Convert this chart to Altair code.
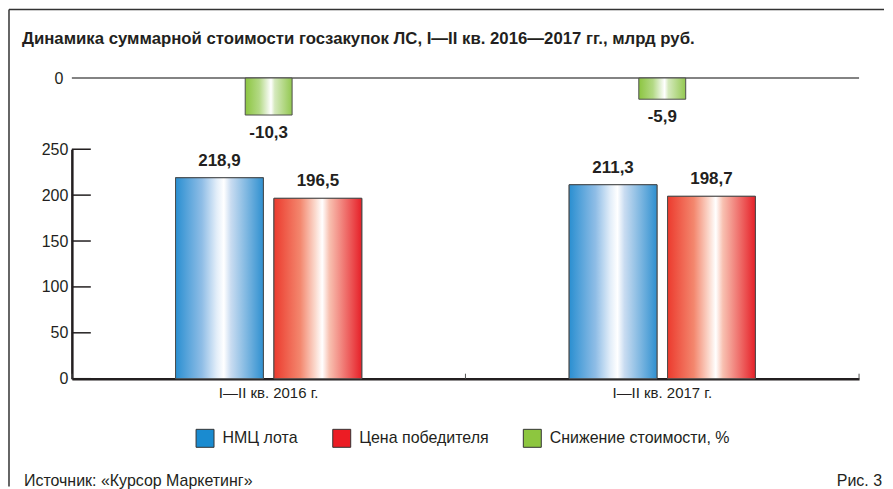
import altair as alt
import pandas as pd

title_text = "Динамика суммарной стоимости госзакупок ЛС, I—II кв. 2016—2017 гг., млрд руб."
source_text = "Источник: «Курсор Маркетинг»"
fig_text = "Рис. 3"

categories = ["I—II кв. 2016 г.", "I—II кв. 2017 г."]
series = ["НМЦ лота", "Цена победителя", "Снижение стоимости, %"]
nmc_values = [218.9, 211.3]
winner_values = [196.5, 198.7]
decrease_values = [-10.3, -5.9]
y_ticks = [0, 50, 100, 150, 200, 250]
solid_colors = ["#1a8bd0", "#ec1c24", "#8dc63f"]

FONT = "Liberation Sans"
INK = "#231f20"


def fmt(v):
    return f"{v:.1f}".replace(".", ",")


def grad(stops):
    return alt.LinearGradient(
        gradient="linear", x1=0, x2=1, y1=0, y2=0,
        stops=[alt.GradientStop(color=c, offset=o) for o, c in stops],
    )


blue_grad = grad([(0, "#2a8fd1"), (0.3, "#8fbde6"), (0.47, "#e3eef9"), (0.55, "#ffffff"),
                  (0.63, "#c9dcf1"), (1, "#2f90d0")])
red_grad = grad([(0, "#ec3b2e"), (0.3, "#f3876e"), (0.47, "#fbd9cd"), (0.55, "#ffffff"),
                 (0.63, "#f8c1b1"), (1, "#e62028")])
green_grad = grad([(0, "#8cc540"), (0.3, "#b3d985"), (0.47, "#e6f2d9"), (0.55, "#ffffff"),
                   (0.63, "#d5e9bd"), (1, "#93c850")])

bars_df = pd.DataFrame({
    "category": categories * 2,
    "series": [series[0]] * 2 + [series[1]] * 2,
    "value": nmc_values + winner_values,
})
bars_df["label"] = bars_df["value"].map(fmt)

dec_df = pd.DataFrame({"category": categories, "value": decrease_values})
dec_df["label"] = dec_df["value"].map(fmt)

one = pd.DataFrame({"k": [0]})

W = 789
x_scale = alt.Scale(domain=categories, paddingInner=0, paddingOuter=0)

# ---------------- top panel ----------------
top_y = alt.Scale(domain=[-14.27, 2.4], nice=False)
top_axis = alt.Axis(values=[0], domain=False, ticks=False, grid=False, labelFont=FONT,
                    labelFontSize=16, labelColor=INK, labelPadding=9, title=None)
tx = alt.X("category:N", scale=x_scale, sort=categories, axis=None)

frame_top = alt.Chart(one).mark_rule(color="#333333", strokeWidth=1.5).encode(
    x=alt.value(-63), x2=alt.value(814), y=alt.value(-60))
frame_left = alt.Chart(one).mark_rule(color="#333333", strokeWidth=1.5).encode(
    x=alt.value(-63), y=alt.value(-60), y2=alt.value(418))
title = alt.Chart(pd.DataFrame({"t": [title_text]})).mark_text(
    align="left", baseline="alphabetic", font=FONT, fontSize=16.8, fontWeight="bold", color=INK
).encode(text="t:N", x=alt.value(-50), y=alt.value(-25))
zero = alt.Chart(pd.DataFrame({"z": [0]})).mark_rule(color="#5a5a5a", strokeWidth=1.5).encode(
    y=alt.Y("z:Q", scale=top_y, axis=top_axis))
green_bars = alt.Chart(dec_df).mark_bar(width=47, fill=green_grad, stroke="#4d4d4d", strokeWidth=1).encode(
    x=tx, y=alt.Y("value:Q", scale=top_y, axis=top_axis))
green_labels = alt.Chart(dec_df).mark_text(
    font=FONT, fontSize=17, fontWeight="bold", color=INK, baseline="top", dy=10
).encode(x=tx, y=alt.Y("value:Q", scale=top_y, axis=top_axis), text="label:N")

top = alt.layer(frame_top, frame_left, title, zero, green_bars, green_labels).properties(width=W, height=60)

# ---------------- bottom panel ----------------
y_scale = alt.Scale(domain=[0, 250], nice=False)
y_axis = alt.Axis(values=y_ticks, title=None, ticks=False, grid=False, domainColor=INK, domainWidth=2.5,
                  labelFont=FONT, labelFontSize=16, labelColor=INK, labelPadding=4)
x_axis = alt.Axis(title=None, labelAngle=0, ticks=False, grid=False, domainColor=INK, domainWidth=2.5,
                  labelFont=FONT, labelFontSize=15, labelColor=INK, labelPadding=7)
xoff_scale = alt.Scale(domain=series[:2], paddingInner=0, paddingOuter=1)

bx = alt.X("category:N", scale=x_scale, sort=categories, axis=x_axis)
bxo = alt.XOffset("series:N", scale=xoff_scale)
by = alt.Y("value:Q", scale=y_scale, axis=y_axis)

base = alt.Chart(bars_df)
solid = base.mark_bar(width=88, stroke="#333333", strokeWidth=1).encode(
    x=bx, xOffset=bxo, y=by,
    color=alt.Color("series:N", scale=alt.Scale(domain=series, range=solid_colors),
                    legend=alt.Legend(title=None, orient="none", legendX=124, legendY=360,
                                      direction="horizontal", symbolType="square", symbolSize=324,
                                      symbolStrokeColor="#333333", symbolStrokeWidth=1,
                                      labelFont=FONT, labelFontSize=16, labelColor=INK,
                                      labelLimit=400, labelOffset=8, columnPadding=32, padding=0)))
blue = base.transform_filter(alt.datum.series == series[0]).mark_bar(
    width=88, fill=blue_grad, stroke="#4d4d4d", strokeWidth=1).encode(x=bx, xOffset=bxo, y=by)
red = base.transform_filter(alt.datum.series == series[1]).mark_bar(
    width=88, fill=red_grad, stroke="#4d4d4d", strokeWidth=1).encode(x=bx, xOffset=bxo, y=by)
labels = base.mark_text(font=FONT, fontSize=17, fontWeight="bold", color=INK,
                        baseline="alphabetic", dy=-12).encode(x=bx, xOffset=bxo, y=by, text="label:N")
ytick_rules = alt.Chart(pd.DataFrame({"t": y_ticks})).mark_rule(color=INK, strokeWidth=1.5).encode(
    y=alt.Y("t:Q", scale=y_scale, axis=y_axis), x=alt.value(0), x2=alt.value(19))
xtick_rules = alt.Chart(pd.DataFrame({"category": categories})).mark_rule(color="#555555", strokeWidth=1).encode(
    x=alt.X("category:N", scale=x_scale, sort=categories, axis=x_axis, bandPosition=0),
    y=alt.value(230), y2=alt.value(225))
end_tick = alt.Chart(one).mark_rule(color="#555555", strokeWidth=1).encode(
    x=alt.value(W), y=alt.value(230), y2=alt.value(225))
source = alt.Chart(pd.DataFrame({"t": [source_text]})).mark_text(
    align="left", baseline="alphabetic", font=FONT, fontSize=16, color=INK
).encode(text="t:N", x=alt.value(-48), y=alt.value(338))
fig = alt.Chart(pd.DataFrame({"t": [fig_text]})).mark_text(
    align="right", baseline="alphabetic", font=FONT, fontSize=16, color=INK
).encode(text="t:N", x=alt.value(812), y=alt.value(338))

bottom = alt.layer(solid, blue, red, labels, ytick_rules, xtick_rules, end_tick, source, fig).properties(
    width=W, height=230)

chart = alt.vconcat(top, bottom, spacing=20, bounds="flush").properties(padding=0).configure_view(strokeWidth=0)

chart.save("out.html", embed_options={"renderer": "svg", "actions": False})
